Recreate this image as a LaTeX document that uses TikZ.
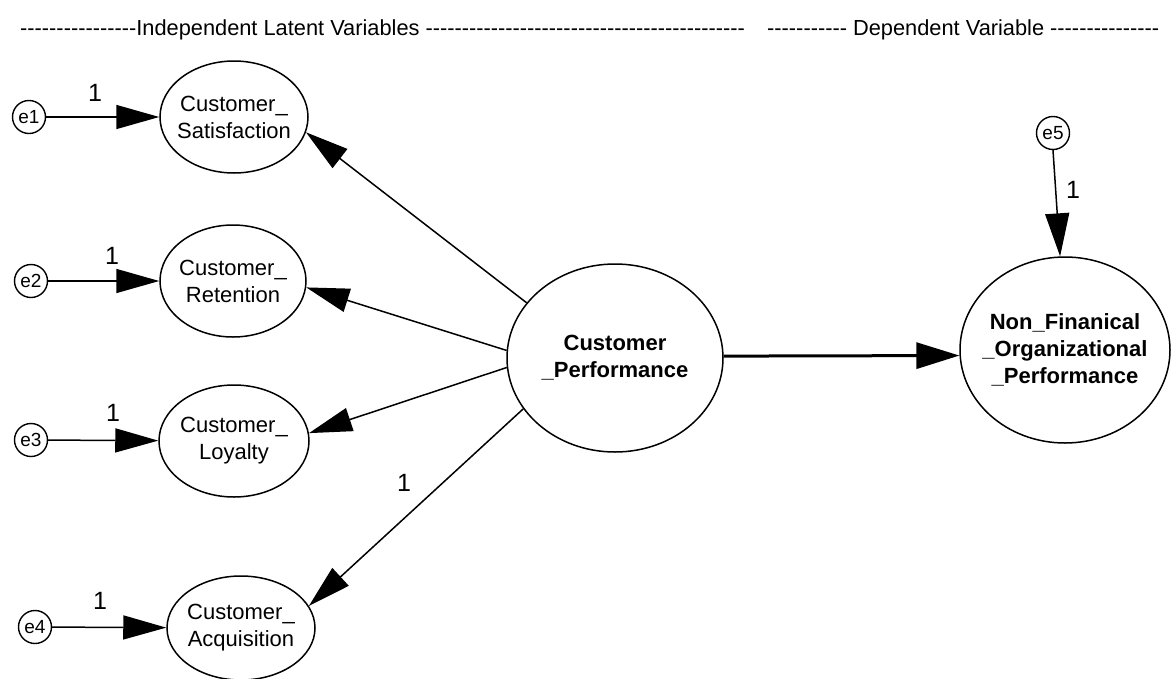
\documentclass[tikz,border=0pt]{standalone}
\usepackage{fontspec}
\setmainfont{Liberation Sans}
\usetikzlibrary{arrows.meta,shapes.geometric}
\newcommand\hyphs[1]{\foreach \k in {1,...,#1}{-\kern0pt}}
\begin{document}
\begin{tikzpicture}[x=1pt,y=-1pt,
  lat/.style={draw, ellipse, line width=1.5pt, inner sep=0pt},
  err/.style={draw, circle, line width=1.4pt, inner sep=0pt, minimum size=33pt, font=\fontsize{19}{22}\selectfont},
  lbl/.style={align=center, font=\fontsize{22}{27}\selectfont, inner sep=0pt},
  blbl/.style={align=center, font=\fontsize{22}{27}\selectfont\bfseries, inner sep=0pt},
  one/.style={font=\fontsize{25}{28}\selectfont, inner sep=0pt},
  arr/.style={line width=1.5pt, -{Triangle[length=43pt,width=24pt]}},
  hdr/.style={font=\fontsize{21.8}{25}\selectfont, inner sep=0pt, anchor=base west}
]
\useasboundingbox (0,0) rectangle (1171,678);
% headers
\node[hdr] (h1) at (20,35) {\hyphs{16}Independent Latent Variables \hyphs{44}};
\node[hdr] (h2) at (767,35) {\hyphs{11} Dependent Variable \hyphs{15}};
% latent ellipses
\node[lat, minimum width=148pt, minimum height=112pt] (sat) at (234,117) {};
\node[lat, minimum width=146pt, minimum height=112pt] (ret) at (233,281) {};
\node[lat, minimum width=150pt, minimum height=112pt] (loy) at (234,441) {};
\node[lat, minimum width=148pt, minimum height=104pt] (acq) at (241,628) {};
\node[lat, minimum width=216pt, minimum height=188pt] (cp) at (615,358) {};
\node[lat, minimum width=210pt, minimum height=186pt] (nfop) at (1065,350) {};
\node[lbl] (satT) at (sat) {Customer\_\\Satisfaction};
\node[lbl] (retT) at (ret) {Customer\_\\Retention};
\node[lbl] (loyT) at (loy) {Customer\_\\Loyalty};
\node[lbl] (acqT) at (acq) {Customer\_\\Acquisition};
\node[blbl] (cpT) at (cp) {Customer\\\_Performance};
\node[blbl] (nfopT) at (nfop) {Non\_Finanical\\\_Organizational\\\_Performance};
% error terms
\node[err] (e1) at (29,117) {e1};
\node[err] (e2) at (31,281) {e2};
\node[err] (e3) at (31,440) {e3};
\node[err] (e4) at (35,627) {e4};
\node[err] (e5) at (1053,133) {e5};
% arrows
\draw[arr] (e1) -- (sat);
\draw[arr] (e2) -- (ret);
\draw[arr] (e3) -- (loy);
\draw[arr] (e4) -- (acq);
\draw[arr] (e5.south) -- (nfop.93);
\draw[arr] (cp.148) -- (sat.-12);
\draw[arr] (cp.176) -- (ret.-5);
\draw[arr] (cp.185) -- (loy.6);
\draw[arr] (cp.209) -- (acq.18);
\draw[arr, line width=3pt, -{Triangle[length=43pt,width=26pt]}] (cp.1.5) -- (nfop.183);
% loadings
\node[one] (l1) at (95,93) {1};
\node[one] (l2) at (112,256) {1};
\node[one] (l3) at (113,413) {1};
\node[one] (l4) at (100,601) {1};
\node[one] (l5) at (404,483) {1};
\node[one] (l6) at (1073,190) {1};
\end{tikzpicture}
\end{document}
